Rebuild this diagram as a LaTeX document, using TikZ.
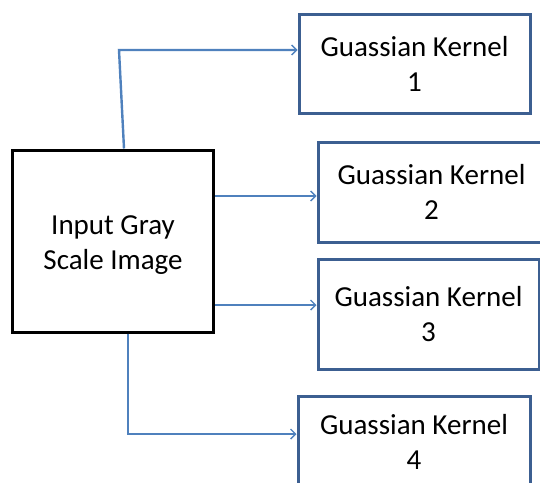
\documentclass[tikz,border=0pt]{standalone}
\usepackage{fontspec}
\setmainfont{Carlito}
\usepackage{tikz}
\usetikzlibrary{arrows.meta}
\definecolor{kblue}{RGB}{60,95,145}
\definecolor{ablue}{RGB}{79,129,189}

\begin{document}
\begin{tikzpicture}
		[
			x=1pt, y=-1pt,
			inode/.style = {rectangle, align=center, draw=black, line width=3pt, fill=white, font=\fontsize{29}{35}\selectfont},
			knode/.style = {rectangle, align=center, draw=kblue, line width=3pt, fill=white, font=\fontsize{29}{35}\selectfont},
			arr/.style = {draw=ablue, line width=2.4pt, -{Straight Barb[length=5pt,width=10pt,line width=1.4pt]}},
		]
		\useasboundingbox (0,0) rectangle (540,482);
		\clip (0,0) rectangle (540,482);

		% input image
		\node[inode, minimum width=201pt, minimum height=182pt] (img) at (113, 241) {};
		\node[font=\fontsize{29}{35}\selectfont, align=center] (imgtext) at (113, 245) {Input Gray\\Scale Image};

		% kernels
		\node[knode, minimum width=231pt, minimum height=99pt] (k1) at (414.5, 63.5) {Guassian Kernel\\1};
		\node[knode, minimum width=227pt, minimum height=100pt] (k2) at (431.5, 192) {Guassian Kernel\\2};
		\node[knode, minimum width=221pt, minimum height=110pt] (k3) at (428.5, 314) {Guassian Kernel\\3};
		\node[knode, minimum width=232pt, minimum height=92pt] (k4) at (414, 442) {Guassian Kernel\\4};

		\coordinate (c1) at (119, 50);
		\coordinate (c4) at (128, 434);

		\draw[arr] ([xshift=11pt]img.north) -- (c1) -- (k1.west |- c1);
		\draw[arr] (img.east |- 0,196) -- (k2.west |- 0,196);
		\draw[arr] (img.east |- 0,305) -- (k3.west |- 0,305);
		\draw[arr] ([xshift=15pt]img.south) -- (c4) -- (k4.west |- c4);

		\end{tikzpicture}
\end{document}
